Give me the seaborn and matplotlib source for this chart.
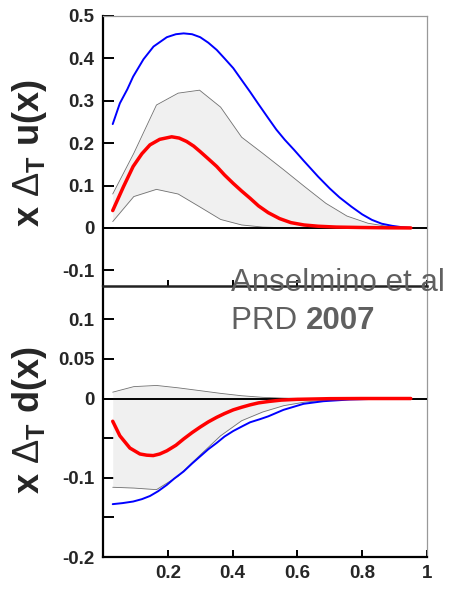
import numpy as np
import pandas as pd
import matplotlib
matplotlib.use("Agg")
import matplotlib.pyplot as plt
import seaborn as sns

# ---------------- data ----------------
# upper panel: x * Delta_T u(x)
ub_x = [0.030, 0.052, 0.075, 0.093, 0.125, 0.156, 0.197, 0.225, 0.249, 0.275, 0.300, 0.325, 0.351, 0.375,
        0.402, 0.427, 0.454, 0.479, 0.510, 0.535, 0.561, 0.590, 0.620, 0.664, 0.700, 0.730, 0.767, 0.800,
        0.830, 0.860, 0.892, 0.920, 0.950]
u_blue = [0.245, 0.294, 0.327, 0.357, 0.398, 0.428, 0.450, 0.457, 0.459, 0.457, 0.450, 0.437, 0.420, 0.400,
          0.377, 0.350, 0.321, 0.293, 0.259, 0.232, 0.208, 0.184, 0.158, 0.121, 0.093, 0.072, 0.050, 0.032,
          0.019, 0.010, 0.005, 0.002, 0.0]
ur_x = [0.030, 0.063, 0.093, 0.120, 0.145, 0.175, 0.212, 0.235, 0.258, 0.280, 0.300, 0.325, 0.351, 0.375,
        0.402, 0.428, 0.454, 0.480, 0.510, 0.545, 0.580, 0.620, 0.664, 0.720, 0.800, 0.880, 0.950]
u_red = [0.041, 0.097, 0.145, 0.175, 0.196, 0.209, 0.215, 0.212, 0.204, 0.193, 0.180, 0.163, 0.145, 0.125,
         0.105, 0.087, 0.070, 0.052, 0.036, 0.022, 0.0125, 0.007, 0.004, 0.002, 0.001, 0.0003, 0.0]

band_x = [0.030, 0.095, 0.165, 0.232, 0.298, 0.363, 0.428, 0.493, 0.558, 0.623, 0.688, 0.753, 0.818, 0.883, 0.950]
u_band_hi = [0.080, 0.176, 0.290, 0.318, 0.325, 0.285, 0.214, 0.176, 0.137, 0.097, 0.058, 0.028, 0.011, 0.003, 0.0]
u_band_lo = [0.015, 0.074, 0.091, 0.080, 0.050, 0.020, 0.007, 0.002, 0.0005, 0.0, 0.0, 0.0, 0.0, 0.0, 0.0]

# lower panel: x * Delta_T d(x)
db_x = [0.030, 0.060, 0.093, 0.120, 0.145, 0.170, 0.197, 0.220, 0.249, 0.275, 0.300, 0.325, 0.351, 0.375,
        0.402, 0.430, 0.454, 0.485, 0.510, 0.557, 0.619, 0.680, 0.760, 0.850, 0.950]
d_blue = [-0.1333, -0.132, -0.130, -0.127, -0.123, -0.117, -0.109, -0.101, -0.092, -0.082, -0.073, -0.064,
          -0.056, -0.048, -0.041, -0.035, -0.030, -0.026, -0.0225, -0.0143, -0.0067, -0.0034, -0.0013,
          -0.0003, 0.0]
dr_x = [0.030, 0.052, 0.083, 0.114, 0.135, 0.155, 0.175, 0.197, 0.225, 0.249, 0.275, 0.300, 0.325, 0.351,
        0.375, 0.402, 0.428, 0.454, 0.480, 0.510, 0.550, 0.600, 0.700, 0.800, 0.950]
d_red = [-0.0287, -0.047, -0.0625, -0.070, -0.0715, -0.072, -0.070, -0.066, -0.059, -0.051, -0.043, -0.036,
         -0.0295, -0.0237, -0.019, -0.0143, -0.011, -0.008, -0.0055, -0.0038, -0.002, -0.001, -0.0002, 0.0, 0.0]
d_band_hi = [0.008, 0.015, 0.0165, 0.0135, 0.010, 0.0065, 0.0035, 0.0015, 0.0005, 0.0, 0.0, 0.0, 0.0, 0.0, 0.0]
d_band_lo = [-0.112, -0.113, -0.115, -0.098, -0.072, -0.047, -0.028, -0.017, -0.009, -0.0045, -0.002,
             -0.0007, -0.0002, 0.0, 0.0]

x_ticks = [0.2, 0.4, 0.6, 0.8, 1.0]
x_ticklabels = ["0.2", "0.4", "0.6", "0.8", "1"]
u_yticks = [-0.1, 0, 0.1, 0.2, 0.3, 0.4, 0.5]
u_yticklabels = ["-0.1", "0", "0.1", "0.2", "0.3", "0.4", "0.5"]
d_yticks = [-0.2, -0.15, -0.1, -0.05, 0, 0.05, 0.1]
d_yticklabels = ["-0.2", "", "-0.1", "", "0", "0.05", "0.1"]

# ---------------- style ----------------
sns.set_style("white")
plt.rcParams["font.family"] = ["Liberation Sans", "DejaVu Sans"]
plt.rcParams["mathtext.fontset"] = "custom"
plt.rcParams["mathtext.rm"] = "Liberation Sans"
plt.rcParams["mathtext.bf"] = "Liberation Sans:bold"
plt.rcParams["mathtext.it"] = "Liberation Sans:italic"

W, H = 451, 590
fig = plt.figure(figsize=(W / 100, H / 100), dpi=100)
left, right = 103 / W, 427 / W
ax_top = fig.add_axes([left, 1 - 286 / H, right - left, (286 - 16) / H])
ax_bot = fig.add_axes([left, 1 - 557 / H, right - left, (557 - 286) / H])
ax_top.set_zorder(2)

BLUE = "#0000ff"
RED = "#ff0000"
TICK_FS = 13.5

def draw(ax, lo, hi, bx, blue, rx, red):
    ax.fill_between(band_x, lo, hi, color="#f0f0f0", zorder=1, linewidth=0)
    ax.plot(band_x, hi, color="#707070", lw=0.6, zorder=2)
    ax.plot(band_x, lo, color="#707070", lw=0.6, zorder=2)
    ax.axhline(0, color="black", lw=1.4, zorder=3)
    dfb = pd.DataFrame({"x": bx, "y": blue})
    dfr = pd.DataFrame({"x": rx, "y": red})
    sns.lineplot(data=dfb, x="x", y="y", ax=ax, color=BLUE, lw=1.4, zorder=4)
    sns.lineplot(data=dfr, x="x", y="y", ax=ax, color=RED, lw=2.5, zorder=5)
    ax.set_xlim(0, 1)
    ax.set_xlabel("")
    ax.set_ylabel("")
    ax.set_xticks(x_ticks)
    for s in ("left", "bottom"):
        ax.spines[s].set_color("black")
        ax.spines[s].set_linewidth(1.6)
    for s in ("top", "right"):
        ax.spines[s].set_color("#999999")
        ax.spines[s].set_linewidth(0.9)
    ax.tick_params(axis="y", left=True, direction="in", length=8, width=1.4,
                   color="black", labelsize=TICK_FS, pad=6)
    ax.tick_params(axis="x", bottom=True, direction="in", length=5, width=1.4,
                   color="black", labelsize=TICK_FS, pad=6)

draw(ax_top, u_band_lo, u_band_hi, ub_x, u_blue, ur_x, u_red)
draw(ax_bot, d_band_lo, d_band_hi, db_x, d_blue, dr_x, d_red)

ax_top.set_ylim(-0.137, 0.5)
ax_top.set_yticks(u_yticks)
ax_top.set_yticklabels(u_yticklabels, fontweight="bold", fontsize=TICK_FS)
ax_top.set_xticklabels([])
ax_top.tick_params(axis="x", length=4)
ax_top.spines["bottom"].set_linewidth(1.8)
ax_top.spines["bottom"].set_color("#222222")

ax_bot.set_ylim(-0.2, 0.142)
ax_bot.set_yticks(d_yticks)
ax_bot.set_yticklabels(d_yticklabels, fontweight="bold", fontsize=TICK_FS)
ax_bot.set_xticklabels(x_ticklabels, fontweight="bold", fontsize=TICK_FS)
ax_bot.spines["top"].set_visible(False)

lab_kw = dict(rotation=90, fontsize=26, fontweight="bold", ha="center", va="center")
fig.text(30 / W, 1 - 153 / H, r"x $\mathrm{\Delta}_{\mathbf{T}}$ u(x)", **lab_kw)
fig.text(30 / W, 1 - 420 / H, r"x $\mathrm{\Delta}_{\mathbf{T}}$ d(x)", **lab_kw)

ANN_FS = 22.5
fig.text(231 / W, 1 - 291.5 / H, "Anselmino et al", fontsize=ANN_FS, color="#606060", va="baseline",
         ha="left", zorder=10)
t = fig.text(231 / W, 1 - 328.5 / H, "PRD ", fontsize=ANN_FS, color="#606060", va="baseline", ha="left",
             zorder=10)
fig.canvas.draw()
bb = t.get_window_extent()
fig.text(bb.x1 / W, 1 - 328.5 / H, "2007", fontsize=ANN_FS, color="#606060", va="baseline", ha="left",
         fontweight="bold", zorder=10)

fig.savefig("out.png", dpi=100)
